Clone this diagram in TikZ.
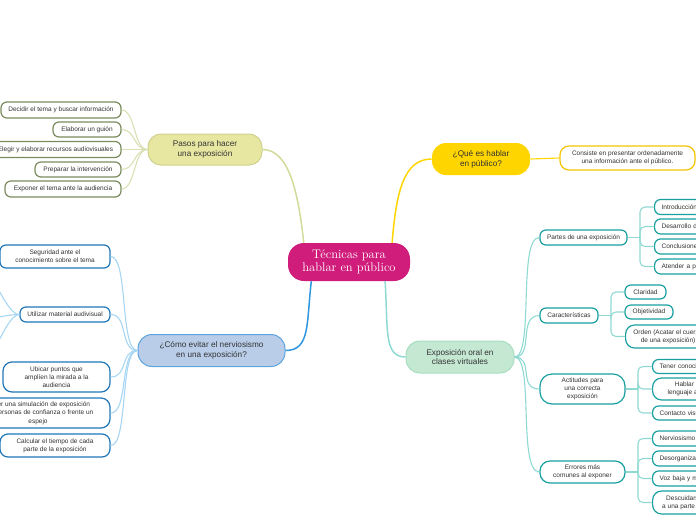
\documentclass[tikz,border=0pt]{standalone}
\usepackage{fontspec}
\setsansfont{Liberation Sans}
\definecolor{mag}{HTML}{D01C7B}
\definecolor{txt}{HTML}{333333}
\definecolor{olvF}{HTML}{E8E7A2}
\definecolor{olvD}{HTML}{CFD18E}
\definecolor{olvB}{HTML}{7B8B5E}
\definecolor{olvL}{HTML}{DADFB4}
\definecolor{olvC}{HTML}{D3DA9A}
\definecolor{gold}{HTML}{FFD500}
\definecolor{goldB}{HTML}{F5C400}
\definecolor{bluF}{HTML}{B9CDE9}
\definecolor{bluD}{HTML}{5DA3DD}
\definecolor{bluB}{HTML}{1F77B9}
\definecolor{bluL}{HTML}{A6D6F2}
\definecolor{bluC}{HTML}{2F97DE}
\definecolor{grnF}{HTML}{C5E8D3}
\definecolor{grnD}{HTML}{A6DDC1}
\definecolor{tealB}{HTML}{1A9FA0}
\definecolor{tealL}{HTML}{8ED9D2}
\begin{document}
\begin{tikzpicture}[x=1pt,y=-1pt,
  every node/.style={inner sep=0pt, align=center, text=txt},
  leafbase/.style={font=\sffamily\fontsize{6.5}{8.3}\selectfont, fill=white, line width=1.2pt, rounded corners=6pt, minimum height=15pt},
  olv/.style={leafbase, draw=olvB},
  blu/.style={leafbase, draw=bluB},
  tl/.style={leafbase, draw=tealB},
  gl/.style={leafbase, draw=goldB, rounded corners=9pt},
  lw/.style={anchor=west, text width=100pt, align=left, inner xsep=7pt},
  mid/.style={font=\sffamily\fontsize{8.2}{9.8}\selectfont, line width=1pt, rounded corners=14pt, minimum height=32pt},
  cn/.style={line width=1.1pt},
  cb/.style={line width=1.5pt}
]
\useasboundingbox (0,0) rectangle (696,520);

% central
\node[fill=mag, text=white, font=\fontsize{12.5}{13}\selectfont, minimum width=122pt, minimum height=38pt, rounded corners=16pt] (central) at (349,262) {Técnicas para\\hablar en público};

% Pasos
\node[mid, fill=olvF, draw=olvD, minimum width=114pt, minimum height=31pt, rounded corners=13pt] (pasos) at (205,149.5) {Pasos para hacer\\una exposición};
\node[olv, minimum width=120pt, minimum height=16pt] (p1) at (61,110) {Decidir el tema y buscar información};
\node[olv, minimum width=68pt] (p2) at (87,129.5) {Elaborar un guión};
\node[olv, minimum width=131pt, minimum height=16pt] (p3) at (55.5,149.5) {Elegir y elaborar recursos audiovisuales};
\node[olv, minimum width=86pt] (p4) at (78,169.5) {Preparar la intervención};
\node[olv, minimum width=116pt, minimum height=16pt] (p5) at (63,189) {Exponer el tema ante la audiencia};
\foreach \c in {p1,p2,p3,p4,p5}
  \draw[cn, olvL] (pasos.west) .. controls +(-14,0) and +(14,0) .. (\c.east);
\draw[cb, olvC] (pasos.east) .. controls +(28,0) and +(-5,-45) .. (central.157);

% Que es
\node[mid, fill=gold, minimum width=98pt] (que) at (481,159) {¿Qué es hablar\\en público?};
\node[gl, minimum width=135pt, minimum height=24pt] (cons) at (627.5,158) {Consiste en presentar ordenadamente\\una información ante el público.};
\draw[cn, gold] (que.east) .. controls +(15,0) and +(-15,0) .. (cons.west);
\draw[cb, gold] (central.24) .. controls +(4,-50) and +(-28,0) .. (que.west);

% Como evitar
\node[mid, fill=bluF, draw=bluD, minimum width=147pt] (como) at (211.5,350.5) {¿Cómo evitar el nerviosismo\\en una exposición?};
\node[blu, minimum width=110pt, minimum height=23pt] (c1) at (55,256.5) {Seguridad ante el\\conocimiento sobre el tema};
\node[blu, minimum width=90pt] (c2) at (65,314.5) {Utilizar material audivisual};
\node[blu, minimum width=107pt, minimum height=30pt, rounded corners=9pt] (c3) at (56.5,377) {Ubicar puntos que\\amplíen la mirada a la\\audiencia};
\node[blu, minimum width=144pt, minimum height=30pt, rounded corners=9pt] (c4) at (38,413) {Hacer una simulación de exposición\\con personas de confianza o frente un\\espejo};
\node[blu, minimum width=110pt, minimum height=23pt, rounded corners=8pt] (c5) at (55,445.5) {Calcular el tiempo de cada\\parte de la exposición};
\foreach \c in {c1,c2,c3,c4,c5}
  \draw[cn, bluL] (como.west) .. controls +(-18,0) and +(18,0) .. (\c.east);
\coordinate (u1) at (-12,278);
\coordinate (u2) at (-10,318);
\coordinate (u3) at (-12,354);
\foreach \c in {u1,u2,u3}
  \draw[cn, bluL] (c2.west) .. controls +(-12,0) and +(8,0) .. (\c);
\draw[cb, bluC] (central.207) .. controls +(-5,42) and +(25,0) .. (como.east);

% Exposicion oral
\node[mid, fill=grnF, draw=grnD, minimum width=108pt] (expo) at (460,357) {Exposición oral en\\clases virtuales};
\draw[cb, tealL] (central.332) .. controls +(3,48) and +(-22,0) .. (expo.west);

\node[tl, minimum width=87pt] (e1) at (583.5,237.5) {Partes de una exposición};
\node[tl, minimum width=58pt] (e2) at (569,315.5) {Características};
\node[tl, minimum width=85pt, minimum height=30pt, rounded corners=12pt] (e3) at (582.5,389) {Actitudes para\\una correcta\\exposición};
\node[tl, minimum width=85pt, minimum height=22pt, rounded corners=10pt] (e4) at (582.5,472) {Errores más\\comunes al exponer};
\foreach \c in {e1,e2,e3,e4}
  \draw[cn, tealL] (expo.east) .. controls +(20,0) and +(-22,0) .. (\c.west);

% Partes leaves
\node[tl, lw] (e11) at (654,207) {Introducción};
\node[tl, lw] (e12) at (654,226.5) {Desarrollo del tema};
\node[tl, lw] (e13) at (654,246.5) {Conclusiones};
\node[tl, lw] (e14) at (654,266.5) {Atender a preguntas};
\coordinate (t1) at (640,237.5);
\draw[cn, tealL] (e1.east) -- (t1);
\foreach \c in {e11,e12,e13,e14}
  \draw[cn, tealL, rounded corners=5pt] (t1) |- (\c.west);

% Caracteristicas leaves
\node[tl, minimum width=41pt, minimum height=14pt] (e21) at (645.5,292) {Claridad};
\node[tl, minimum width=48pt, minimum height=14pt] (e22) at (649,312) {Objetividad};
\node[tl, anchor=west, minimum width=85pt, minimum height=23pt, rounded corners=9pt] (e23) at (625,336.5) {Orden (Acatar el cuerpo\\de una exposición)};
\coordinate (t2) at (611,315.5);
\draw[cn, tealL] (e2.east) -- (t2);
\foreach \c in {e21,e22,e23}
  \draw[cn, tealL, rounded corners=5pt] (t2) |- (\c.west);

% Actitudes leaves
\node[tl, lw, minimum height=14pt] (e31) at (652,366.5) {Tener conocimiento del tema};
\node[tl, anchor=west, minimum width=85pt, minimum height=22pt, rounded corners=9pt] (e32) at (652,389) {Hablar con un\\lenguaje adecuado};
\node[tl, lw, minimum height=14pt] (e33) at (652,413) {Contacto visual};
\coordinate (t3) at (638,389);
\draw[cn, tealL] (e3.east) -- (t3);
\foreach \c in {e31,e32,e33}
  \draw[cn, tealL, rounded corners=5pt] (t3) |- (\c.west);

% Errores leaves
\node[tl, lw] (e41) at (652,438.5) {Nerviosismo};
\node[tl, lw] (e42) at (652,458.5) {Desorganización};
\node[tl, lw] (e43) at (652,478.5) {Voz baja y monótona};
\node[tl, anchor=west, minimum width=85pt, minimum height=23pt, rounded corners=9pt] (e44) at (652,502.5) {Descuidarse y mirar\\a una parte del público};
\coordinate (t4) at (638,472);
\draw[cn, tealL] (e4.east) -- (t4);
\foreach \c in {e41,e42,e43,e44}
  \draw[cn, tealL, rounded corners=5pt] (t4) |- (\c.west);
\end{tikzpicture}
\end{document}
